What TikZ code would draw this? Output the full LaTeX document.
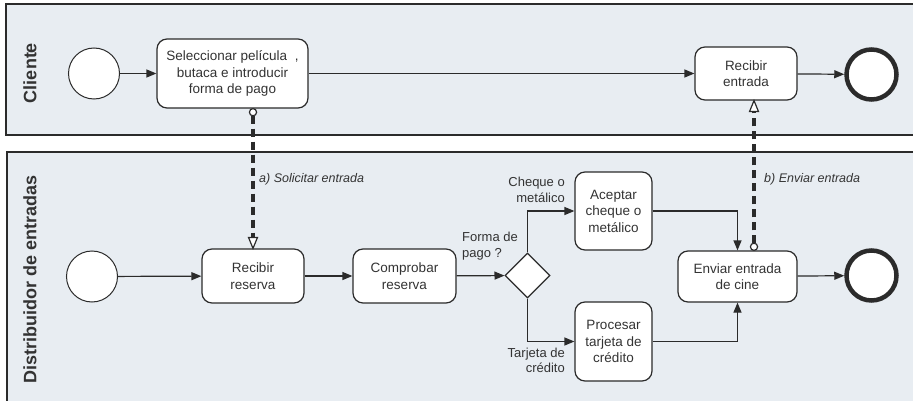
\documentclass[tikz,border=0pt]{standalone}
\usepackage{fontspec}
\setmainfont{Liberation Sans}
\usetikzlibrary{arrows.meta,shapes.geometric,calc}
\definecolor{poolfill}{HTML}{E8EDF2}
\definecolor{ink}{HTML}{2B2B2B}
\definecolor{txt}{HTML}{333333}
\begin{document}
\begin{tikzpicture}[x=1pt,y=-1pt,
  pool/.style={draw=ink,line width=1.5pt,fill=poolfill},
  task/.style={draw=ink,line width=1.2pt,fill=white,rounded corners=10pt,align=center,inner sep=0pt,text=txt,font=\fontsize{13.5}{16.5}\selectfont},
  startev/.style={circle,draw=ink,line width=1pt,fill=white,minimum size=51pt,inner sep=0pt},
  endev/.style={circle,draw=ink,line width=4.5pt,fill=white,minimum size=50pt,inner sep=0pt},
  gate/.style={diamond,draw=ink,line width=1.2pt,fill=white,minimum size=45pt,inner sep=0pt},
  seq/.style={draw=ink,line width=1.2pt,-{Triangle[length=10pt,width=8pt]}},
  msgline/.style={draw=ink,line width=3.4pt,dash pattern=on 8pt off 5pt},
  msgtip/.style={draw=ink,line width=1.2pt,fill=white,line join=miter},
  lbl/.style={text=txt,font=\fontsize{13}{15.5}\selectfont,inner sep=0pt},
  mlbl/.style={text=txt,font=\fontsize{12.5}{15}\selectfont\itshape,inner sep=0pt},
  lane/.style={text=txt,font=\fontsize{18}{20}\selectfont\bfseries,rotate=90,inner sep=0pt}
]
\useasboundingbox (0,0) rectangle (913,401);
\fill[white] (0,0) rectangle (913,401);
\clip (0,0) rectangle (913,401);
% pools
\draw[pool] (6,4) rectangle (925,135);
\draw[pool] (7,152) rectangle (925,415);
\node[lane] (lc) at (30,73) {Cliente};
\node[lane] (ld) at (30,279) {Distribuidor de entradas};
% client lane
\node[startev] (cs) at (94,73.5) {};
\node[task,minimum width=151pt,minimum height=69pt] (sel) at (232.5,73.5) {Seleccionar película\ \ ,\\butaca e introducir\\forma de pago};
\node[task,minimum width=102pt,minimum height=53pt] (rece) at (746,73.5) {Recibir\\entrada};
\node[endev] (ce) at (871.5,74.5) {};
% distributor lane
\node[startev] (ds) at (92,276.5) {};
\node[task,minimum width=102pt,minimum height=54pt] (recr) at (253,276) {Recibir\\reserva};
\node[task,minimum width=103pt,minimum height=54pt] (comp) at (404.5,276) {Comprobar\\reserva};
\node[gate] (gw) at (527.5,275.5) {};
\node[task,minimum width=77pt,minimum height=78pt] (acep) at (613.5,211) {Aceptar\\cheque o\\metálico};
\node[task,minimum width=77pt,minimum height=79pt] (proc) at (613.5,341.5) {Procesar\\tarjeta de\\crédito};
\node[task,minimum width=119pt,minimum height=51pt] (env) at (737.5,276.5) {Enviar entrada\\de cine};
\node[endev] (de) at (871.5,275.5) {};
% labels
\node[lbl,anchor=east,align=right] (l1) at (565,190) {Cheque o\\metálico};
\node[lbl,anchor=west,align=left] (l2) at (462,246) {Forma de\\pago ?};
\node[lbl,anchor=east,align=right] (l3) at (565,360.5) {Tarjeta de\\crédito};
\node[mlbl,anchor=west] (la) at (259,179) {a) Solicitar entrada};
\node[mlbl,anchor=west] (lb) at (764,179) {b) Enviar entrada};
% sequence flows
\draw[seq] (cs) -- (sel);
\draw[seq] (sel) -- (rece);
\draw[seq] (rece) -- (ce);
\draw[seq] (ds) -- (recr);
\draw[seq] (recr) -- (comp);
\draw[seq] (comp) -- (gw);
\draw[seq] (gw.north) |- (acep.west);
\draw[seq] (gw.south) |- (proc.west);
\draw[seq] (acep.east) -| (env.north);
\draw[seq] (proc.east) -| (env.south);
\draw[seq] (env) -- (de);
% message flows
\coordinate (a1) at (recr.north |- sel.south);
\coordinate (a2) at (recr.north);
\coordinate (mb) at (754,0);
\coordinate (b1) at (mb |- env.north);
\coordinate (b2) at (mb |- rece.south);
\draw[msgline] ($(a1)+(0,7)$) -- ($(a2)+(0,-11)$);
\draw[msgtip] ($(a1)+(0,3.6)$) circle (3.6);
\draw[msgtip] (a2) -- ++(-4.5,-11) -- ++(9,0) -- cycle;
\draw[msgline] ($(b1)+(0,-7)$) -- ($(b2)+(0,11)$);
\draw[msgtip] ($(b1)+(0,-3.6)$) circle (3.6);
\draw[msgtip] (b2) -- ++(-4.5,11) -- ++(9,0) -- cycle;
\end{tikzpicture}
\end{document}
